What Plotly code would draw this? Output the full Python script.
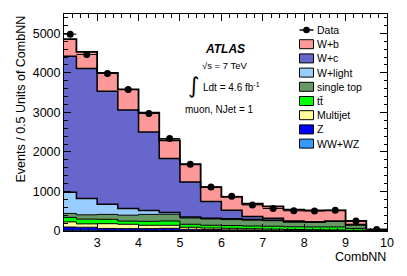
import plotly.graph_objects as go

# ---------------- data ----------------
edges = [2.2, 2.5, 3.0, 3.5, 4.0, 4.5, 5.0, 5.5, 6.0, 6.5, 7.0, 7.5, 8.0, 8.5, 9.0, 9.5, 10.0]
data = [4980, 4466, 3985, 3580, 2972, 2339, 1689, 1114, 876, 660, 570, 510, 506, 524, 253, 35]

ww_wz = [20, 20, 15, 15, 15, 15, 10, 10, 8, 8, 6, 5, 5, 4, 3, 1]
z_jets = [80, 75, 50, 45, 45, 53, 33, 25, 20, 18, 15, 12, 10, 8, 5, 1]
multijet = [130, 85, 120, 110, 85, 76, 51, 40, 40, 30, 25, 20, 18, 15, 8, 2]
ttbar = [115, 120, 110, 80, 100, 109, 76, 70, 70, 70, 75, 70, 70, 75, 50, 6]
single_top = [100, 110, 125, 150, 175, 170, 159, 160, 150, 150, 140, 120, 115, 140, 90, 8]
w_light = [535, 410, 255, 170, 100, 43, 25, 20, 20, 14, 10, 8, 5, 5, 3, 1]
w_c = [3443, 3291, 2861, 2489, 1982, 1367, 887, 423, 216, 80, 50, 15, 10, 7, 4, 1]
w_b = [430, 420, 463, 525, 490, 463, 448, 362, 337, 320, 304, 291, 291, 270, 90, 20]

# stack order bottom -> top
components = [
    ("WW+WZ", ww_wz, "#3399ff", 1.0),
    ("Z", z_jets, "#0000ff", 1.0),
    ("Multijet", multijet, "#ffff99", 1.0),
    ("tt\u0304", ttbar, "#00ff00", 1.0),
    ("single top", single_top, "#669966", 1.0),
    ("W+light", w_light, "#99ccff", 1.5),
    ("W+c", w_c, "#6666cc", 1.5),
    ("W+b", w_b, "#ff9999", 1.8),
]

FONT = "Liberation Sans, Arial, Helvetica, sans-serif"
W, H = 407, 276
L, R, T, B = 64, 20, 14, 45
PX0, PX1 = L, W - R
PY0, PY1 = T, H - B


def xp(px):
    return (px - PX0) / (PX1 - PX0)


def yp(py):
    return (PY1 - py) / (PY1 - PY0)


fig = go.Figure()

for name, vals, color, lw in components:
    fig.add_trace(go.Scatter(
        x=edges, y=list(vals) + [vals[-1]],
        mode="lines", line=dict(shape="hv", color="black", width=lw),
        fill="tonexty", fillcolor=color, stackgroup="mc",
        name=name, showlegend=False, hoverinfo="skip",
    ))

centers = [(a + b) / 2 for a, b in zip(edges[:-1], edges[1:])]
halfw = [(b - a) / 2 for a, b in zip(edges[:-1], edges[1:])]
fig.add_trace(go.Scatter(
    x=centers, y=data, mode="markers",
    marker=dict(color="black", size=7),
    error_x=dict(type="data", array=halfw, color="black", thickness=1, width=0),
    name="Data", showlegend=False,
))

# ---------------- legend (manual) ----------------
shapes = []
annotations = []
legend_items = [("Data", None)] + [(n, c) for n, v, c, lw in components[::-1]]
y0 = 30.0
step = 14.2
bx0, bx1 = 299.5, 313.5
for i, (name, color) in enumerate(legend_items):
    yc = y0 + i * step
    if color is None:
        shapes.append(dict(type="line", xref="paper", yref="paper",
                           x0=xp(bx0), x1=xp(bx1), y0=yp(yc), y1=yp(yc),
                           line=dict(color="black", width=1.5)))
        r = 3.3
        shapes.append(dict(type="circle", xref="paper", yref="paper",
                           x0=xp(306.5 - r), x1=xp(306.5 + r), y0=yp(yc + r), y1=yp(yc - r),
                           fillcolor="black", line=dict(color="black", width=0)))
    else:
        shapes.append(dict(type="rect", xref="paper", yref="paper",
                           x0=xp(bx0), x1=xp(bx1), y0=yp(yc + 4.5), y1=yp(yc - 4.5),
                           fillcolor=color, line=dict(color="black", width=1)))
    annotations.append(dict(text=name, xref="paper", yref="paper", x=xp(315), y=yp(yc),
                            xanchor="left", yanchor="middle", showarrow=False,
                            font=dict(family=FONT, size=10.5, color="black")))

# ---------------- labels ----------------
annotations += [
    dict(text="<b><i>ATLAS</i></b>", x=xp(225), y=yp(49), xref="paper", yref="paper",
         showarrow=False, xanchor="center", yanchor="middle",
         font=dict(family=FONT, size=12, color="black")),
    dict(text="\u221as = 7 TeV", x=xp(225), y=yp(65), xref="paper", yref="paper",
         showarrow=False, xanchor="center", yanchor="middle",
         font=dict(family=FONT, size=9.5, color="black")),
    dict(text="\u222b", x=xp(193), y=yp(85), xref="paper", yref="paper",
         showarrow=False, xanchor="center", yanchor="middle",
         font=dict(family="DejaVu Sans, sans-serif", size=22, color="black")),
    dict(text="Ldt = 4.6 fb<sup>-1</sup>", x=xp(201), y=yp(87), xref="paper", yref="paper",
         showarrow=False, xanchor="left", yanchor="middle",
         font=dict(family=FONT, size=10, color="black")),
    dict(text="muon, NJet = 1", x=xp(219), y=yp(109), xref="paper", yref="paper",
         showarrow=False, xanchor="center", yanchor="middle",
         font=dict(family=FONT, size=10, color="black")),
    dict(text="Events / 0.5 Units of CombNN", x=xp(20), y=yp(14), xref="paper", yref="paper",
         showarrow=False, xanchor="center", yanchor="top", textangle=-90,
         font=dict(family=FONT, size=12.5, color="black")),
    dict(text="CombNN", x=xp(388), y=yp(257), xref="paper", yref="paper",
         showarrow=False, xanchor="right", yanchor="middle",
         font=dict(family=FONT, size=12.5, color="black")),
]

axis_common = dict(
    showgrid=False, zeroline=False, showline=True, linecolor="black", linewidth=1,
    mirror="allticks", ticks="inside", tickcolor="black", tickwidth=1,
    tickfont=dict(family=FONT, size=12.5, color="black"),
)

fig.update_layout(
    width=W, height=H, autosize=False,
    margin=dict(l=L, r=R, t=T, b=B, pad=0),
    paper_bgcolor="white", plot_bgcolor="white",
    showlegend=False,
    xaxis=dict(range=[2.2, 10], tick0=0, dtick=1, ticklen=7,
               minor=dict(dtick=0.2, tick0=0, ticklen=3.5, ticks="inside", tickcolor="black", showgrid=False),
               **axis_common),
    yaxis=dict(range=[0, 5490], tick0=0, dtick=1000, ticklen=7,
               minor=dict(dtick=200, tick0=0, ticklen=3.5, ticks="inside", tickcolor="black", showgrid=False),
               **axis_common),
    shapes=shapes, annotations=annotations,
)

fig.write_html("out.html", config={"displayModeBar": False},
               post_script="document.body.style.margin='0px';document.body.style.padding='0px';")
